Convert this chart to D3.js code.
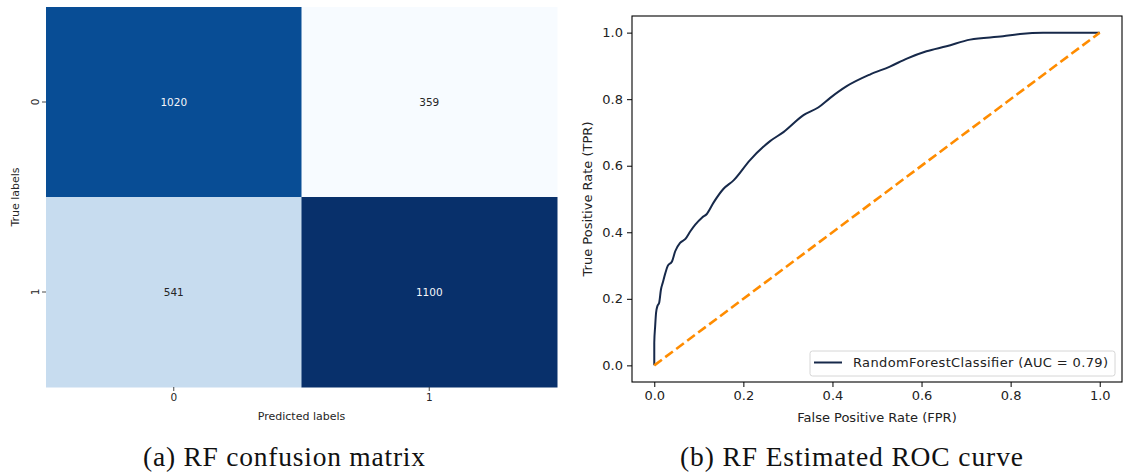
<!DOCTYPE html>
<html>
<head>
<meta charset="utf-8">
<script src="https://cdn.jsdelivr.net/npm/d3@7"></script>
<style>
  html, body { margin: 0; padding: 0; background: #fff; }
  svg { display: block; font-family: "DejaVu Sans", sans-serif; }
</style>
</head>
<body>
<svg id="fig" width="1124" height="476"></svg>
<script>
// ---- data ----
const classLabels = ["0", "1"];
// rows: true label, columns: predicted label
const confusionRow0 = [1020, 359];
const confusionRow1 = [541, 1100];

// ROC curve of the random forest (false positive rate, true positive rate)
const rocFpr = [0.000, 0.000, 0.002, 0.004, 0.007, 0.011, 0.015, 0.019, 0.025, 0.030,
                0.040, 0.047, 0.058, 0.070, 0.081, 0.092, 0.107, 0.118, 0.133, 0.155,
                0.178, 0.215, 0.260, 0.290, 0.335, 0.368, 0.395, 0.432, 0.484, 0.529,
                0.567, 0.611, 0.656, 0.709, 0.783, 0.821, 0.873, 0.933, 1.000];
const rocTpr = [0.000, 0.068, 0.118, 0.158, 0.178, 0.188, 0.228, 0.248, 0.278, 0.298,
                0.313, 0.343, 0.368, 0.380, 0.403, 0.423, 0.444, 0.455, 0.489, 0.530,
                0.556, 0.617, 0.674, 0.701, 0.752, 0.775, 0.804, 0.839, 0.874, 0.898,
                0.922, 0.944, 0.959, 0.979, 0.989, 0.996, 1.000, 1.000, 1.000];
const chanceLine = [0, 1];
const rocTicks = [0.0, 0.2, 0.4, 0.6, 0.8, 1.0];
const legendLabel = "RandomForestClassifier (AUC = 0.79)";
const captionA = "(a) RF confusion matrix";
const captionB = "(b) RF Estimated ROC curve";

const svg = d3.select("#fig");
svg.append("rect").attr("width", 1124).attr("height", 476).attr("fill", "#fff");

// ---- (a) confusion matrix heatmap ----
const confusion = [confusionRow0, confusionRow1];
const cells = [];
confusion.forEach((row, i) => row.forEach((v, j) =>
  cells.push({ t: classLabels[i], p: classLabels[j], v })));

const cmX = d3.scaleBand().domain(classLabels).range([46, 557]);
const cmY = d3.scaleBand().domain(classLabels).range([7, 387]);
const blues = d3.piecewise(d3.interpolateRgb,
  ["#f7fbff", "#deebf7", "#c6dbef", "#9ecae1", "#6baed6", "#4292c6", "#2171b5", "#08519c", "#08306b"]);
const flat = cells.map(c => c.v);
const cmColor = d3.scaleSequential(blues).domain([d3.min(flat), d3.max(flat)]);

function luminance(col) {
  const c = d3.rgb(col);
  const f = u => { u /= 255; return u <= 0.03928 ? u / 12.92 : Math.pow((u + 0.055) / 1.055, 2.4); };
  return 0.2126 * f(c.r) + 0.7152 * f(c.g) + 0.0722 * f(c.b);
}

const gA = svg.append("g");
gA.selectAll("rect.cell").data(cells).join("rect")
  .attr("class", "cell")
  .attr("x", d => cmX(d.p)).attr("y", d => cmY(d.t))
  .attr("width", cmX.bandwidth() + 0.5).attr("height", cmY.bandwidth() + 0.5)
  .attr("fill", d => cmColor(d.v));

gA.selectAll("text.annot").data(cells).join("text")
  .attr("class", "annot")
  .attr("x", d => cmX(d.p) + cmX.bandwidth() / 2)
  .attr("y", d => cmY(d.t) + cmY.bandwidth() / 2)
  .attr("dy", "0.36em")
  .attr("text-anchor", "middle")
  .attr("font-size", 10.5)
  .attr("fill", d => luminance(cmColor(d.v)) > 0.408 ? "#262626" : "#f4f6f9")
  .text(d => d.v);

// heatmap axes (ticks only, no spines)
const axA_x = gA.append("g").attr("transform", "translate(0,387)")
  .call(d3.axisBottom(cmX).tickSize(4).tickPadding(3));
const axA_y = gA.append("g").attr("transform", "translate(46,0)")
  .call(d3.axisLeft(cmY).tickSize(4).tickPadding(3));
[axA_x, axA_y].forEach(ax => {
  ax.attr("font-family", null);
  ax.select(".domain").remove();
  ax.selectAll(".tick line").attr("stroke", "#333").attr("stroke-width", 0.9);
  ax.selectAll(".tick text").attr("font-size", 10.5).attr("fill", "#262626");
});
axA_y.selectAll(".tick text")
  .attr("text-anchor", "middle").attr("x", null).attr("dy", null)
  .attr("transform", "translate(-11,0) rotate(-90)")
  .attr("y", 0).attr("dy", "0.36em");

gA.append("text").attr("x", 301.5).attr("y", 420)
  .attr("text-anchor", "middle").attr("font-size", 11).attr("fill", "#262626")
  .text("Predicted labels");
gA.append("text").attr("transform", "translate(19,197) rotate(-90)")
  .attr("text-anchor", "middle").attr("font-size", 11).attr("fill", "#262626")
  .text("True labels");

// ---- (b) ROC curve ----
const roc = rocFpr.map((f, i) => ({ f, t: rocTpr[i] }));
const rx = d3.scaleLinear().domain([-0.05, 1.05]).range([632, 1122]);
const ry = d3.scaleLinear().domain([-0.05, 1.05]).range([382, 16]);

const gB = svg.append("g");
const fmt = d3.format(".1f");
const axB_x = gB.append("g").attr("transform", "translate(0,382)")
  .call(d3.axisBottom(rx).tickValues(rocTicks).tickFormat(fmt).tickSize(5).tickPadding(4).tickSizeOuter(0));
const axB_y = gB.append("g").attr("transform", "translate(632,0)")
  .call(d3.axisLeft(ry).tickValues(rocTicks).tickFormat(fmt).tickSize(5).tickPadding(4).tickSizeOuter(0));
[axB_x, axB_y].forEach(ax => {
  ax.attr("font-family", null);
  ax.select(".domain").remove();
  ax.selectAll(".tick line").attr("stroke", "#000").attr("stroke-width", 1);
  ax.selectAll(".tick text").attr("font-size", 13).attr("fill", "#222");
});

const line = d3.line().x(d => rx(d.f)).y(d => ry(d.t)).curve(d3.curveMonotoneX);
gB.append("path").datum(roc).attr("d", line)
  .attr("fill", "none").attr("stroke", "#17294a").attr("stroke-width", 2)
  .attr("stroke-linejoin", "round");

gB.append("line")
  .attr("x1", rx(chanceLine[0])).attr("y1", ry(chanceLine[0]))
  .attr("x2", rx(chanceLine[1])).attr("y2", ry(chanceLine[1]))
  .attr("stroke", "#ff8c00").attr("stroke-width", 2.6).attr("stroke-dasharray", "9.5,4.2");

// frame
gB.append("rect").attr("x", 632).attr("y", 16).attr("width", 490).attr("height", 366)
  .attr("fill", "none").attr("stroke", "#000").attr("stroke-width", 1.1);

// legend
const lg = gB.append("g");
lg.append("rect").attr("x", 810).attr("y", 351).attr("width", 305).attr("height", 25)
  .attr("rx", 2.5).attr("fill", "#fff").attr("fill-opacity", 0.8)
  .attr("stroke", "#d6d6d6").attr("stroke-width", 1);
lg.append("line").attr("x1", 814).attr("x2", 842).attr("y1", 362.5).attr("y2", 362.5)
  .attr("stroke", "#17294a").attr("stroke-width", 2);
lg.append("text").attr("x", 853).attr("y", 362.5).attr("dy", "0.36em")
  .attr("font-size", 13).attr("fill", "#222")
  .attr("textLength", 255).attr("lengthAdjust", "spacing")
  .text(legendLabel);

gB.append("text").attr("x", 877).attr("y", 422)
  .attr("text-anchor", "middle").attr("font-size", 13).attr("fill", "#222")
  .text("False Positive Rate (FPR)");
gB.append("text").attr("transform", "translate(592,199) rotate(-90)")
  .attr("text-anchor", "middle").attr("font-size", 13).attr("fill", "#222")
  .text("True Positive Rate (TPR)");

// ---- captions (serif) ----
svg.append("text").attr("x", 143).attr("y", 466)
  .style("font-family", "'Liberation Serif', serif").attr("font-size", 27.5).attr("fill", "#111")
  .attr("textLength", 282).attr("lengthAdjust", "spacing")
  .text(captionA);
svg.append("text").attr("x", 680).attr("y", 466)
  .style("font-family", "'Liberation Serif', serif").attr("font-size", 27.5).attr("fill", "#111")
  .attr("textLength", 343).attr("lengthAdjust", "spacing")
  .text(captionB);
</script>
</body>
</html>
